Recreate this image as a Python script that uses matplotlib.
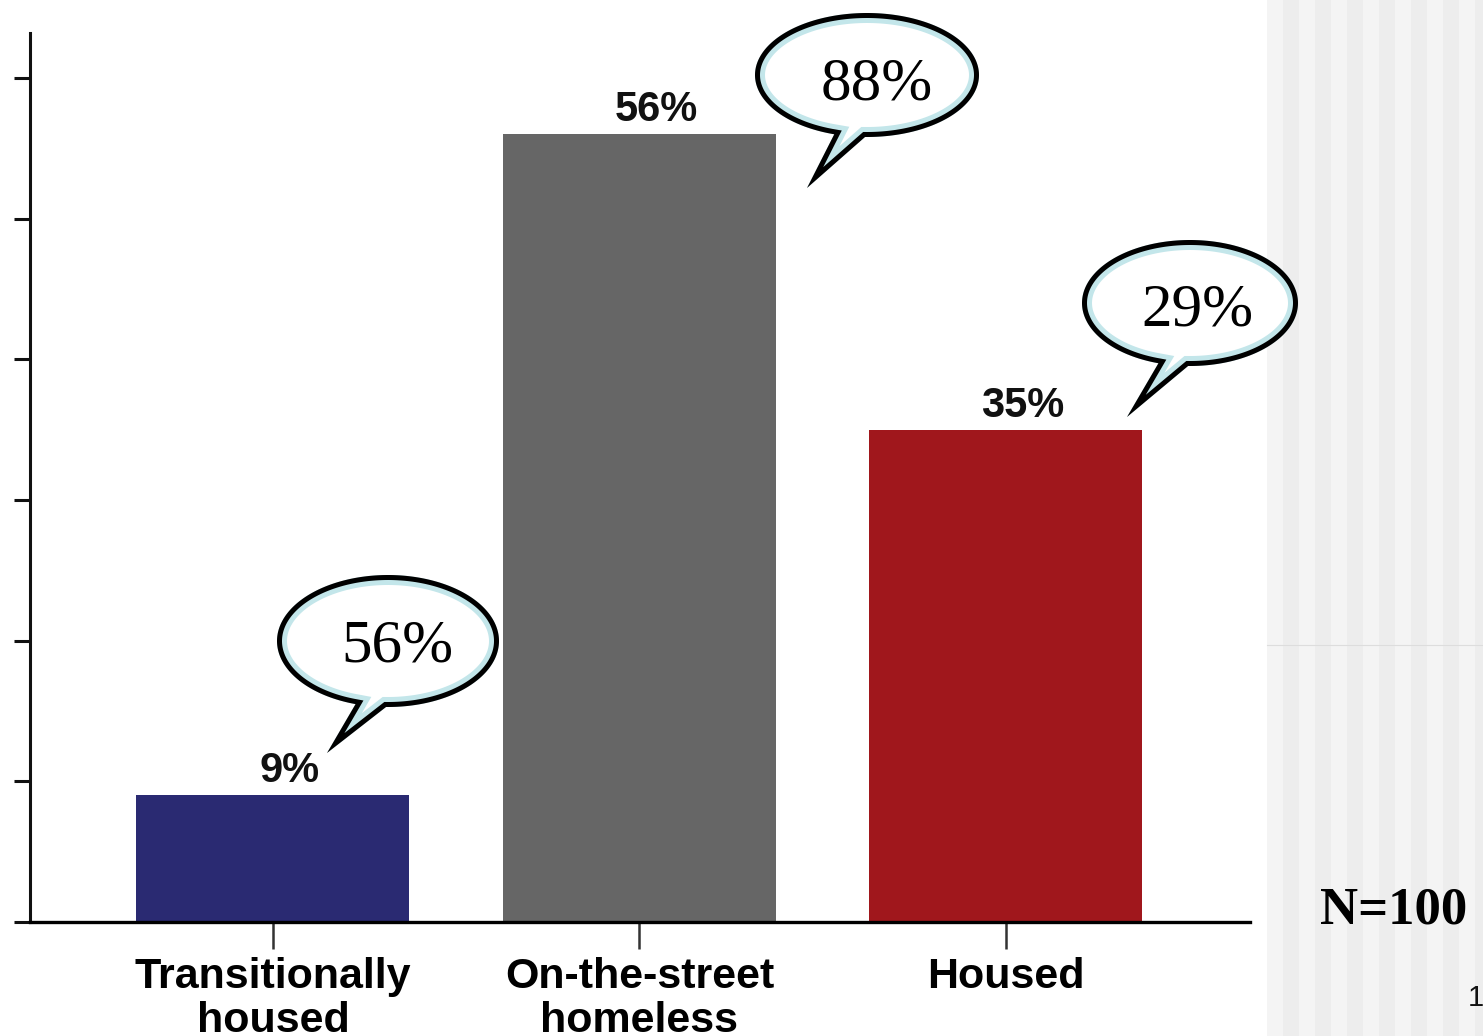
import matplotlib
matplotlib.use("Agg")
import matplotlib.pyplot as plt
from matplotlib.patches import Rectangle, PathPatch
from matplotlib.path import Path
from matplotlib.transforms import Affine2D
import numpy as np

# ---- data ----
categories = ["Transitionally\nhoused", "On-the-street\nhomeless", "Housed"]
values = [9, 56, 35]
bar_labels = ["9%", "56%", "35%"]
bar_colors = ["#2a2a72", "#666666", "#a0171c"]
callout_labels = ["56%", "88%", "29%"]
note_text = "N=100"
page_number = "1"

W, H, DPI = 1483, 1036, 100
fig = plt.figure(figsize=(W / DPI, H / DPI), dpi=DPI, facecolor="white")
# pixel coords (origin top-left, y down) -> display
T = Affine2D().scale(1 / DPI, -1 / DPI).translate(0, H / DPI) + fig.dpi_scale_trans

# ---- striped side panel ----
x0 = 1267
i = 0
while x0 < W:
    c = "#f4f4f4" if i % 2 == 0 else "#ededed"
    fig.add_artist(Rectangle((x0, 0), 16, H, transform=T, facecolor=c,
                             edgecolor="none", zorder=0.5))
    x0 += 16
    i += 1
fig.add_artist(plt.Line2D([1267, W], [645, 645], transform=T, color="#dddddd",
                          lw=0.8, zorder=0.6))

# ---- axes ----
ax = fig.add_axes([30 / W, 114 / H, 1220 / W, 889 / H])
ax.set_facecolor("none")
x = np.arange(len(categories))
ax.bar(x, values, width=0.745, color=bar_colors, zorder=2)
ax.set_xlim(-0.663, 2.666)
ax.set_ylim(0, 63.2)
for s in ["top", "right"]:
    ax.spines[s].set_visible(False)
ax.spines["left"].set_linewidth(2.2)
ax.spines["bottom"].set_linewidth(2.4)
ax.spines["left"].set_color("#111111")
ax.spines["bottom"].set_color("#000000")
ax.set_yticks(np.arange(0, 61, 10))
ax.set_yticklabels([])
ax.tick_params(axis="y", direction="out", length=11.5, width=2.2, color="#111111")
ax.set_xticks(x)
ax.set_xticklabels(categories, fontfamily="Liberation Sans", fontweight="bold",
                   fontsize=31, linespacing=1.12)
ax.tick_params(axis="x", direction="out", length=19.5, width=1.8, color="#333333",
               pad=6)

for xi, v, lab in zip(x, values, bar_labels):
    ax.annotate(lab, (xi, v), xytext=(17, 4), textcoords="offset pixels",
                ha="center", va="bottom", fontfamily="Liberation Sans",
                fontweight="bold", fontsize=30, color="#111111")

# ---- speech-bubble callouts (pixel layout) ----
bubbles = [
    # cx, cy, a, b, tip_x, tip_y, text_x, text_baseline
    (388, 641, 111, 66, 327, 753, 397, 662),
    (867, 75, 112, 62, 807, 188, 877, 100),
    (1190, 303, 108, 63, 1127, 417, 1197, 325),
]
px2pt = 72 / DPI
for (cx, cy, a, b, tx, ty, lx, ly), lab in zip(bubbles, callout_labels):
    th = np.radians(np.linspace(107, 91 + 360, 300))
    pts = np.column_stack([cx + a * np.cos(th), cy + b * np.sin(th)])
    pts = np.vstack([pts, [[tx, ty]], pts[:1]])
    codes = [Path.MOVETO] + [Path.LINETO] * (len(pts) - 2) + [Path.CLOSEPOLY]
    path = Path(pts, codes)
    shape = PathPatch(path, transform=T, facecolor="white", edgecolor="none", zorder=3)
    fig.add_artist(shape)
    blue = PathPatch(path, transform=T, facecolor="none", edgecolor="#c3e6ea",
                     lw=2 * 10 * px2pt, joinstyle="miter", zorder=3.1)
    blue.set_clip_path(shape)
    fig.add_artist(blue)
    blk = PathPatch(path, transform=T, facecolor="none", edgecolor="black",
                    lw=2 * 5 * px2pt, joinstyle="miter", zorder=3.2)
    blk.set_clip_path(shape)
    fig.add_artist(blk)
    fig.text(lx, ly, lab, transform=T, ha="center", va="baseline",
             fontfamily="Liberation Serif", fontsize=44, color="black", zorder=4)

fig.text(1394, 923, note_text, transform=T, ha="center", va="baseline",
         fontfamily="Liberation Serif", fontweight="bold", fontsize=38, color="black")
fig.text(1468, 1006, page_number, transform=T, ha="left", va="baseline",
         fontfamily="Liberation Sans", fontsize=21, color="#111111")

fig.savefig("out.png", dpi=DPI, facecolor="white")
